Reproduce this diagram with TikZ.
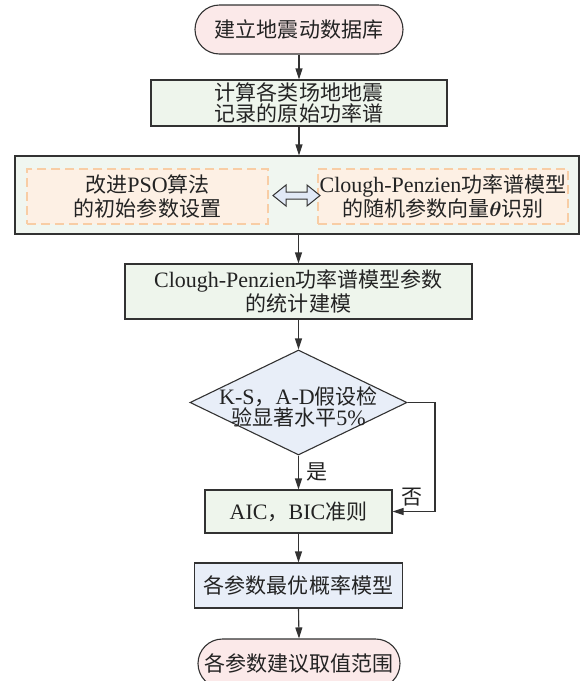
\documentclass[tikz,border=0pt]{standalone}
\usepackage{fontspec}
\usepackage{amsmath}
\setmainfont{Liberation Serif}
\newfontfamily\cjk[Scale=0.955]{Noto Sans CJK SC}
\newcommand\zh[1]{{\cjk #1}}
\usetikzlibrary{shapes.misc,shapes.geometric,arrows.meta}
\definecolor{bordc}{RGB}{50,50,50}
\definecolor{txtc}{RGB}{35,35,35}
\definecolor{pinkc}{RGB}{251,233,233}
\definecolor{greenc}{RGB}{238,245,236}
\definecolor{bigc}{RGB}{240,246,240}
\definecolor{dfillc}{RGB}{253,240,228}
\definecolor{dlinec}{RGB}{248,205,165}
\definecolor{bluec}{RGB}{232,238,248}
\definecolor{dac}{RGB}{225,233,246}
\newcommand\fs{\fontsize{22}{21}\selectfont}
\newcommand\fsd{\fontsize{22}{23.5}\selectfont}
\tikzset{
  box/.style={draw=bordc, line width=1.1pt, inner sep=0pt, align=center, font=\fs, text=txtc},
  term/.style={box, rounded rectangle, fill=pinkc},
  dbox/.style={draw=dlinec, fill=dfillc, line width=1.6pt, dash pattern=on 9pt off 5pt, inner sep=0pt, align=center, font=\fsd, text=txtc},
  arr/.style={draw=bordc, line width=1.1pt, -{Triangle[length=11pt,width=7pt]}},
  lbl/.style={font=\fs, text=txtc, inner sep=0pt}
}
\begin{document}
\begin{tikzpicture}[x=1pt,y=-1pt]
\useasboundingbox (0,0) rectangle (583,681);
\node[term, minimum width=208pt, minimum height=49pt] (t1) at (299,29.5) {\zh{建立地震动数据库}};
\node[box, fill=greenc, minimum width=296pt, minimum height=46pt] (b2) at (299,103) {\zh{计算各类场地地震}\\\zh{记录的原始功率谱}};
\node[box, fill=bigc, minimum width=564pt, minimum height=78pt] (b3) at (297,195) {};
\node[dbox, minimum width=241pt, minimum height=55pt] (dl) at (147.5,196.5) {\zh{改进}PSO\zh{算法}\\\zh{的初始参数设置}};
\node[dbox, minimum width=250pt, minimum height=55pt] (dr) at (443,196.5) {Clough-Penzien\zh{功率谱模型}\\\zh{的随机参数向量}$\boldsymbol{\theta}$\zh{识别}};
\draw[draw=bordc, fill=dac, line width=1pt]
  (273,195.5) -- (286,185) -- (286,192) -- (307,192) -- (307,185) -- (320,195.5)
  -- (307,206) -- (307,199) -- (286,199) -- (286,206) -- cycle;
\node[box, fill=greenc, minimum width=347pt, minimum height=55pt] (b4) at (298.5,291.5) {Clough-Penzien\zh{功率谱模型参数}\\\zh{的统计建模}};
\node[diamond, draw=bordc, fill=bluec, line width=1.1pt, minimum width=217pt, minimum height=105pt, inner sep=0pt] (d) at (298.5,402.5) {};
\node[lbl, align=center] (dt) at (298.5,407) {K-S\zh{，}A-D\zh{假设检}\\\zh{验显著水平}5\%};
\node[box, fill=greenc, minimum width=187pt, minimum height=43pt] (aic) at (298.5,511.5) {AIC\zh{，}BIC\zh{准则}};
\node[box, fill=bluec, minimum width=208pt, minimum height=45pt] (b6) at (298.5,585.5) {\zh{各参数最优概率模型}};
\node[term, minimum width=202pt, minimum height=49pt] (t2) at (299,663.5) {\zh{各参数建议取值范围}};
\coordinate (lp) at (435,402.5);
\draw[arr] (t1.south) -- (t1.south |- b2.north);
\draw[arr] (b2.south) -- (b2.south |- b3.north);
\draw[arr] (b4.north |- b3.south) -- (b4.north);
\draw[arr] (b4.south) -- (d.north);
\draw[arr] (d.south) -- (aic.north);
\node[lbl, anchor=west] (yes) at (306,472) {\zh{是}};
\draw[arr] (d.east) -- (lp) |- (aic.east);
\node[lbl] (no) at (412,497) {\zh{否}};
\draw[arr] (aic.south) -- (b6.north);
\draw[arr] (b6.south) -- (t2.north);
\end{tikzpicture}
\end{document}
